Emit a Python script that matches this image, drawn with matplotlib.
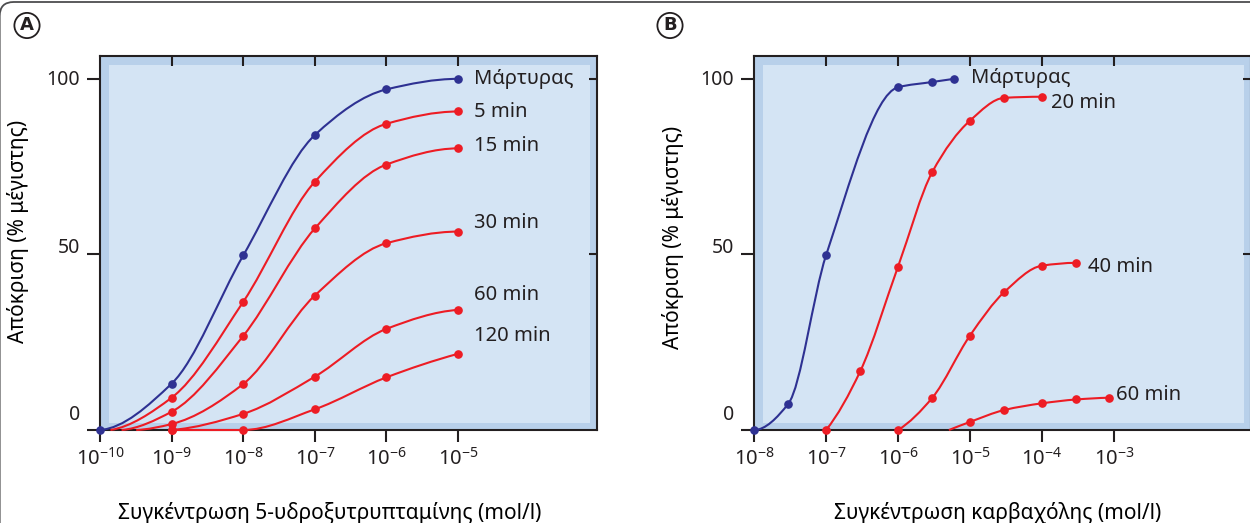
import numpy as np
import matplotlib
matplotlib.use("Agg")
import matplotlib.pyplot as plt
import matplotlib.lines as mlines
from matplotlib.path import Path
from matplotlib.patches import PathPatch, Rectangle, FancyBboxPatch
from matplotlib.transforms import ScaledTranslation, IdentityTransform

# Panel A: 5-HT, dose-response after increasing times
a_conc = [1e-10, 1e-9, 1e-8, 1e-7, 1e-6, 1e-5]
a_control = [0, 13.2, 49.7, 84, 97, 100]
a_5min = [0, 9.2, 36.5, 70.7, 87.2, 90.7]
a_15min = [0, 5.2, 26.8, 57.4, 75.6, 80.2]
a_30min = [0, 1.7, 13.1, 38.3, 53.2, 56.5]
a_60min = [0, 4.6, 15.2, 28.8, 34.2]
a_120min = [0, 0, 5.9, 15.0, 21.7]
# where the red curves leave the axis (no marker there)
a_start = {"5 min": 1.4e-10, "15 min": 2.0e-10, "30 min": 3.2e-10}

# Panel B: carbachol
b_control_conc = [1e-8, 3e-8, 1e-7, 1e-6, 3e-6, 6e-6]
b_control = [0, 7.5, 49.7, 97.6, 99.1, 100]
b_20_conc = [1e-7, 3e-7, 1e-6, 3e-6, 1e-5, 3e-5, 1e-4]
b_20min = [0, 16.8, 46.5, 73.5, 88.1, 94.6, 94.9]
b_40_conc = [1e-6, 3e-6, 1e-5, 3e-5, 1e-4, 3e-4]
b_40min = [0, 9.2, 26.9, 39.3, 46.8, 47.6]
b_60_conc = [1e-5, 3e-5, 1e-4, 3e-4, 8.5e-4]
b_60min = [2.3, 5.7, 7.6, 8.7, 9.2]
b_60_start = 5.1e-6

a_ticks = [1e-10, 1e-9, 1e-8, 1e-7, 1e-6, 1e-5]
b_ticks = [1e-8, 1e-7, 1e-6, 1e-5, 1e-4, 1e-3]

BLUE = "#2e3192"
RED = "#ed1c24"
INK = "#231f20"
BAND = "#b8d0ea"
INNER = "#d4e4f4"

plt.rcParams["font.family"] = ["Noto Sans", "DejaVu Sans"]
plt.rcParams["mathtext.fontset"] = "custom"
plt.rcParams["mathtext.rm"] = "Noto Sans"
plt.rcParams["text.color"] = INK


def slopes(x, y):
    # monotone (pchip) tangents so the curves don't overshoot
    h = np.diff(x)
    d = np.diff(y) / h
    n = len(x)
    m = np.zeros(n)
    for k in range(1, n - 1):
        if d[k - 1] * d[k] > 0:
            w1 = 2 * h[k] + h[k - 1]
            w2 = h[k] + 2 * h[k - 1]
            m[k] = (w1 + w2) / (w1 / d[k - 1] + w2 / d[k])
    if n > 2:
        for i, (h0, h1, d0, d1) in ((0, (h[0], h[1], d[0], d[1])),
                                    (n - 1, (h[-1], h[-2], d[-1], d[-2]))):
            e = ((2 * h0 + h1) * d0 - h0 * d1) / (h0 + h1)
            if np.sign(e) != np.sign(d0):
                e = 0
            elif np.sign(d0) != np.sign(d1) and abs(e) > abs(3 * d0):
                e = 3 * d0
            m[i] = e
    else:
        m[:] = d[0]
    return m


def curve(ax, conc, vals, color):
    x = np.log10(conc)
    y = np.asarray(vals, float)
    m = slopes(x, y)
    verts = [(x[0], y[0])]
    codes = [Path.MOVETO]
    for i in range(len(x) - 1):
        h = x[i + 1] - x[i]
        verts += [(x[i] + h / 3, y[i] + m[i] * h / 3),
                  (x[i + 1] - h / 3, y[i + 1] - m[i + 1] * h / 3),
                  (x[i + 1], y[i + 1])]
        codes += [Path.CURVE4] * 3
    verts = np.array(verts)
    verts[:, 0] = 10 ** verts[:, 0]
    ax.add_patch(PathPatch(Path(verts, codes), fill=False, ec=color, lw=1.5,
                           clip_on=False, zorder=4))


def series(ax, conc, vals, color, label=None, start=None, lab_xy=None):
    if start is not None:
        curve(ax, [start] + list(conc), [0] + list(vals), color)
    else:
        curve(ax, conc, vals, color)
    ax.plot(conc, vals, "o", ms=5.2, color=color, clip_on=False, zorder=5)
    if label:
        ax.text(lab_xy[0], lab_xy[1], label, fontsize=14.5, ha="left",
                va="center", color=INK)


def frame(ax, xlim, ticks, xlabel, lx, ly):
    ax.set_xscale("log")
    ax.set_xlim(*xlim)
    ax.set_ylim(0, 106.5)
    ax.set_facecolor(BAND)
    ax.add_patch(Rectangle((0.018, 0.019), 0.968, 0.957, transform=ax.transAxes,
                           fc=INNER, ec="none", zorder=0))
    for s in ax.spines.values():
        s.set_linewidth(1.5)
        s.set_color(INK)
    ax.set_xticks(ticks)
    ax.set_xticklabels([r"$\mathregular{10^{%d}}$" % int(round(np.log10(t)))
                        for t in ticks])
    ax.minorticks_off()
    ax.set_yticks([0, 50, 100])
    ax.set_yticklabels(["0", "50", "100"])
    ax.tick_params(axis="x", direction="out", length=8.6, width=1.5,
                   labelsize=14.5, pad=4, colors=INK, top=True)
    ax.tick_params(axis="y", direction="out", length=9.4, width=1.5,
                   labelsize=14, pad=5, colors=INK, right=True)
    # top and right ticks point inwards, unlike the bottom and left ones
    for i, t in enumerate(ax.xaxis.get_major_ticks()):
        t.tick2line.set_marker(mlines.TICKDOWN)
        t.tick2line.set_markersize(7)
        t.tick2line.set_visible(i > 0)
    for i, t in enumerate(ax.yaxis.get_major_ticks()):
        t.tick2line.set_marker(mlines.TICKLEFT)
        t.tick2line.set_markersize(5.5)
        t.tick2line.set_visible(i > 0)
    ax.set_ylabel("Απόκριση (% μέγιστης)", fontsize=15, va="center")
    ax.yaxis.set_label_coords(ly[0], ly[1])
    ax.set_xlabel(xlabel, fontsize=15, va="center")
    ax.xaxis.set_label_coords(lx[0], lx[1])


fig = plt.figure(figsize=(12.5, 5.23), dpi=100)
ax_a = fig.add_axes([0.08, 0.1778, 0.3976, 0.7151])
ax_b = fig.add_axes([0.6032, 0.1778, 0.3976, 0.7151])

frame(ax_a, (1e-10, 10 ** -3.06), a_ticks,
      "Συγκέντρωση 5-υδροξυτρυπταμίνης (mol/l)", (0.463, -0.222), (-0.165, 0.53))
frame(ax_b, (1e-8, 10 ** -1.097), b_ticks,
      "Συγκέντρωση καρβαχόλης (mol/l)", (0.491, -0.222), (-0.163, 0.516))

lab_x = 10 ** -4.78
series(ax_a, a_conc, a_control, BLUE, "Μάρτυρας", lab_xy=(lab_x, 100))
series(ax_a, a_conc[1:], a_5min[1:], RED, "5 min", a_start["5 min"], (lab_x, 90.6))
series(ax_a, a_conc[1:], a_15min[1:], RED, "15 min", a_start["15 min"], (lab_x, 80.9))
series(ax_a, a_conc[1:], a_30min[1:], RED, "30 min", a_start["30 min"], (lab_x, 59))
series(ax_a, a_conc[1:], a_60min, RED, "60 min", lab_xy=(lab_x, 38.5))
series(ax_a, a_conc[1:], a_120min, RED, "120 min", lab_xy=(lab_x, 26.8))

series(ax_b, b_control_conc, b_control, BLUE, "Μάρτυρας", lab_xy=(10 ** -4.99, 100.3))
series(ax_b, b_20_conc, b_20min, RED, "20 min", lab_xy=(10 ** -3.875, 93.2))
series(ax_b, b_40_conc, b_40min, RED, "40 min", lab_xy=(10 ** -3.36, 46.4))
series(ax_b, b_60_conc, b_60min, RED, "60 min", b_60_start, (10 ** -2.97, 10))

# y tick labels sit above their ticks in the original
for ax in (ax_a, ax_b):
    for tick, dy in zip(ax.yaxis.get_major_ticks(), [18, 9, 1]):
        lab = tick.label1
        lab.set_transform(lab.get_transform() +
                          ScaledTranslation(0, dy / 100, fig.dpi_scale_trans))

# circled panel letters
for x, letter in ((27, "A"), (670, "B")):
    fig.text(x / 1250, 1 - 25.5 / 523, letter, fontsize=13, fontweight="bold",
             family="DejaVu Sans", ha="center", va="center",
             bbox=dict(boxstyle="circle,pad=0.2", fc="white", ec=INK, lw=1.3))

# outer frame with the rounded top-left corner
fig.add_artist(FancyBboxPatch((-0.3, -60), 1400, 523 - 2 + 60,
                              boxstyle="round,pad=0,rounding_size=14",
                              transform=IdentityTransform(), fill=False,
                              ec="#4d4d4f", lw=1.3))

fig.savefig("out.png", dpi=100)
